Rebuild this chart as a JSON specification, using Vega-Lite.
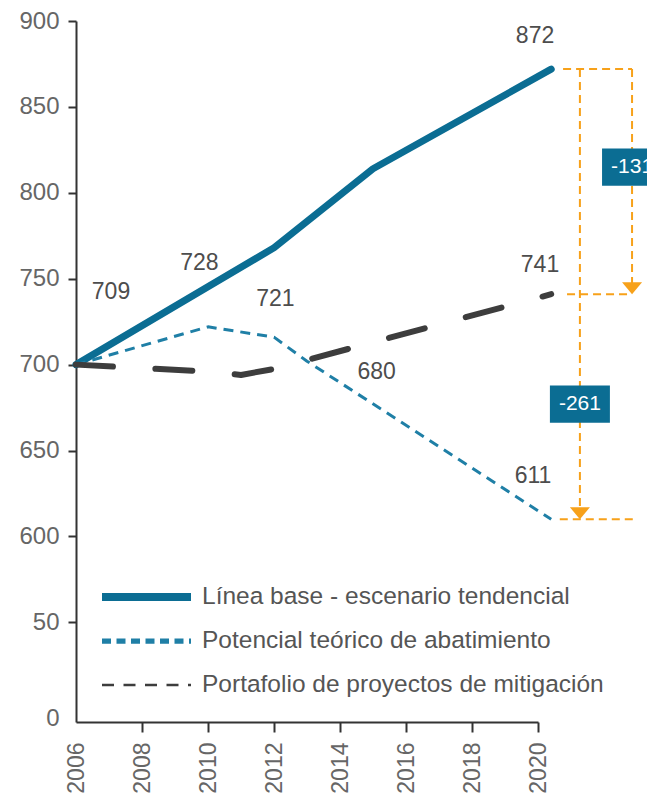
{
  "$schema": "https://vega.github.io/schema/vega-lite/v6.json",
  "width": 462,
  "height": 701,
  "autosize": "none",
  "padding": {"left": 76, "top": 21, "right": 109, "bottom": 84},
  "background": "white",
  "config": {"view": {"stroke": null}, "font": "Liberation Sans"},
  "datasets": {
    "series": [
      {"serie": "Línea base - escenario tendencial", "year": 2006, "value": 700},
      {"serie": "Línea base - escenario tendencial", "year": 2012, "value": 768},
      {"serie": "Línea base - escenario tendencial", "year": 2015, "value": 814},
      {"serie": "Línea base - escenario tendencial", "year": 2020.4, "value": 872},
      {"serie": "Potencial teórico de abatimiento", "year": 2006, "value": 700},
      {"serie": "Potencial teórico de abatimiento", "year": 2010, "value": 722},
      {"serie": "Potencial teórico de abatimiento", "year": 2012, "value": 716},
      {"serie": "Potencial teórico de abatimiento", "year": 2013, "value": 702},
      {"serie": "Potencial teórico de abatimiento", "year": 2020.4, "value": 610},
      {"serie": "Portafolio de proyectos de mitigación", "year": 2006, "value": 700},
      {"serie": "Portafolio de proyectos de mitigación", "year": 2010, "value": 696},
      {"serie": "Portafolio de proyectos de mitigación", "year": 2011, "value": 694},
      {"serie": "Portafolio de proyectos de mitigación", "year": 2012, "value": 697.5},
      {"serie": "Portafolio de proyectos de mitigación", "year": 2020.4, "value": 741}
    ],
    "annot": [
      {"x": 2020.76, "x2": 2022.85, "y": 872, "y2": 872},
      {"x": 2020.88, "x2": 2022.85, "y": 741, "y2": 741},
      {"x": 2020.66, "x2": 2022.95, "y": 610, "y2": 610},
      {"x": 2021.27, "x2": 2021.27, "y": 872, "y2": 616},
      {"x": 2022.85, "x2": 2022.85, "y": 872, "y2": 747}
    ],
    "arrows": [
      {"x": 2021.27, "y": 610},
      {"x": 2022.85, "y": 741}
    ],
    "boxes": [
      {"x": 2021.27, "y": 677, "label": "-261"},
      {"x": 2022.85, "y": 815, "label": "-131"}
    ],
    "labels": [
      {"x": 2007.06, "y": 742, "label": "709"},
      {"x": 2009.74, "y": 759, "label": "728"},
      {"x": 2012.04, "y": 738, "label": "721"},
      {"x": 2015.11, "y": 696, "label": "680"},
      {"x": 2019.85, "y": 635, "label": "611"},
      {"x": 2020.06, "y": 758, "label": "741"},
      {"x": 2019.91, "y": 891, "label": "872"}
    ]
  },
  "layer": [
    {
      "data": {"name": "series"},
      "transform": [{"filter": "false"}],
      "mark": {"type": "line", "strokeCap": "butt"},
      "encoding": {
        "x": {
          "field": "year", "type": "quantitative",
          "scale": {"domain": [2006, 2020], "nice": false, "zero": false},
          "axis": {
            "title": null, "values": [2006, 2008, 2010, 2012, 2014, 2016, 2018, 2020], "format": "d",
            "labelAngle": 270, "labelFontSize": 23, "labelColor": "#666666", "labelPadding": 10,
            "tickSize": 10, "tickWidth": 2, "tickColor": "#333333",
            "tickOpacity": {"condition": {"test": "datum.value == 2006", "value": 0}, "value": 1},
            "domainColor": "#333333", "domainWidth": 2, "grid": false, "labelFlush": false, "labelOverlap": false
          }
        },
        "y": {
          "field": "value", "type": "quantitative",
          "scale": {"domain": [492, 900], "nice": false, "zero": false},
          "axis": {
            "title": null, "values": [494, 550, 600, 650, 700, 750, 800, 850, 900],
            "labelExpr": "datum.value == 494 ? '0' : datum.value == 550 ? '50' : datum.label",
            "labelFontSize": 24, "labelColor": "#666666", "labelPadding": 9,
            "tickSize": 8, "tickWidth": 2, "tickColor": "#333333",
            "tickOpacity": {"condition": {"test": "datum.value == 494", "value": 0}, "value": 1},
            "domainColor": "#333333", "domainWidth": 2, "grid": false, "labelFlush": false, "labelOverlap": false
          }
        },
        "color": {
          "field": "serie", "type": "nominal",
          "scale": {
            "domain": ["Línea base - escenario tendencial", "Potencial teórico de abatimiento", "Portafolio de proyectos de mitigación"],
            "range": ["#0b6d93", "#1f7fa6", "#3d3d3d"]
          },
          "legend": {
            "orient": "none", "legendX": 22, "legendY": 560, "title": null, "padding": 0,
            "symbolType": "stroke", "symbolSize": 7921, "clipHeight": 32, "rowPadding": 12,
            "labelFontSize": 24.5, "labelColor": "#555555", "labelLimit": 600, "labelOffset": 7
          }
        },
        "strokeDash": {
          "field": "serie", "type": "nominal",
          "scale": {
            "domain": ["Línea base - escenario tendencial", "Potencial teórico de abatimiento", "Portafolio de proyectos de mitigación"],
            "range": [[1, 0], [9, 5.5], [12, 9.5]]
          }
        },
        "strokeWidth": {
          "field": "serie", "type": "nominal",
          "scale": {
            "domain": ["Línea base - escenario tendencial", "Potencial teórico de abatimiento", "Portafolio de proyectos de mitigación"],
            "range": [8, 2.5, 3]
          }
        }
      }
    },
    {
      "data": {"name": "series"},
      "transform": [{"filter": "datum.serie === 'Línea base - escenario tendencial'"}],
      "mark": {"type": "line", "strokeWidth": 7, "strokeCap": "round", "strokeJoin": "round"},
      "encoding": {
        "x": {"field": "year", "type": "quantitative"},
        "y": {"field": "value", "type": "quantitative"},
        "color": {"field": "serie", "type": "nominal"}
      }
    },
    {
      "data": {"name": "series"},
      "transform": [{"filter": "datum.serie === 'Potencial teórico de abatimiento'"}],
      "mark": {"type": "line", "strokeWidth": 3, "strokeDash": [10, 7], "strokeCap": "butt", "strokeJoin": "round"},
      "encoding": {
        "x": {"field": "year", "type": "quantitative"},
        "y": {"field": "value", "type": "quantitative"},
        "color": {"field": "serie", "type": "nominal"}
      }
    },
    {
      "data": {"name": "series"},
      "transform": [{"filter": "datum.serie === 'Portafolio de proyectos de mitigación'"}],
      "mark": {"type": "line", "strokeWidth": 6, "strokeDash": [37, 42.5], "strokeCap": "round", "strokeJoin": "round"},
      "encoding": {
        "x": {"field": "year", "type": "quantitative"},
        "y": {"field": "value", "type": "quantitative"},
        "color": {"field": "serie", "type": "nominal"}
      }
    },
    {
      "data": {"name": "annot"},
      "mark": {"type": "rule", "color": "#f7a11a", "strokeWidth": 2, "strokeDash": [8, 5]},
      "encoding": {
        "x": {"field": "x", "type": "quantitative"},
        "x2": {"field": "x2"},
        "y": {"field": "y", "type": "quantitative"},
        "y2": {"field": "y2"}
      }
    },
    {
      "data": {"name": "arrows"},
      "mark": {"type": "point", "shape": "M-1,-0.6L1,-0.6L0,0.6Z", "size": 400, "filled": true, "color": "#f7a11a", "opacity": 1, "yOffset": -6},
      "encoding": {
        "x": {"field": "x", "type": "quantitative"},
        "y": {"field": "y", "type": "quantitative"}
      }
    },
    {
      "data": {"name": "boxes"},
      "mark": {"type": "point", "shape": "M-1,-0.62L1,-0.62L1,0.62L-1,0.62Z", "size": 3600, "filled": true, "color": "#0b6d93", "opacity": 1},
      "encoding": {
        "x": {"field": "x", "type": "quantitative"},
        "y": {"field": "y", "type": "quantitative"}
      }
    },
    {
      "data": {"name": "boxes"},
      "mark": {"type": "text", "color": "white", "fontSize": 21, "align": "center", "baseline": "middle"},
      "encoding": {
        "x": {"field": "x", "type": "quantitative"},
        "y": {"field": "y", "type": "quantitative"},
        "text": {"field": "label"}
      }
    },
    {
      "data": {"name": "labels"},
      "mark": {"type": "text", "color": "#4d4d4d", "fontSize": 23, "align": "center", "baseline": "middle"},
      "encoding": {
        "x": {"field": "x", "type": "quantitative"},
        "y": {"field": "y", "type": "quantitative"},
        "text": {"field": "label"}
      }
    }
  ]
}
